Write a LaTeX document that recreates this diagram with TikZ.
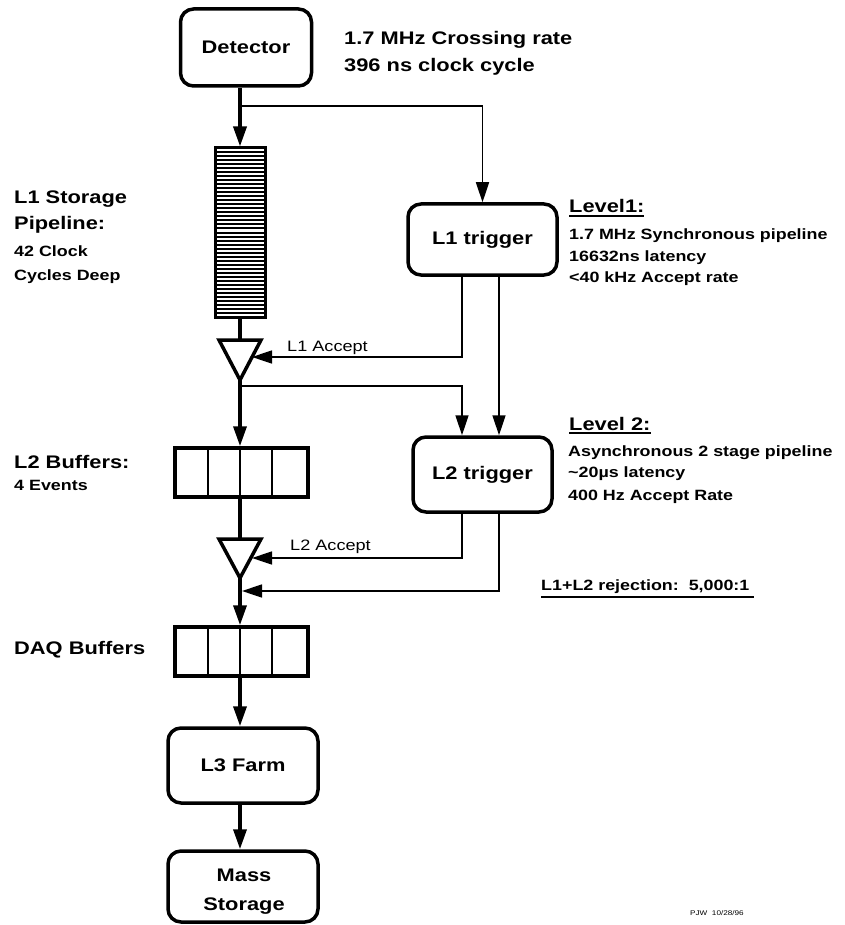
\documentclass[tikz,border=0pt]{standalone}
\usepackage{fontspec}
\setmainfont{Liberation Sans}
\usepackage{graphicx}
\usetikzlibrary{arrows.meta,calc}
\newcommand\wx[1]{\scalebox{1.2}[1]{#1}}
\newcommand\fbig{\fontsize{18.2}{28}\bfseries\selectfont}
\newcommand\fmed{\fontsize{14.9}{22}\bfseries\selectfont}
\newcommand\fmedr{\fontsize{15.1}{22}\selectfont}
\newcommand\ftiny{\fontsize{6.8}{8}\selectfont}
\newcommand\myul[2][4.3pt]{\setbox0\hbox{#2}\rlap{\rule[-#1]{\wd0}{2pt}}\box0}
\tikzset{
  bx/.style={draw, line width=3.5pt, rounded corners=13pt, inner sep=0pt, align=center},
  txt/.style={inner sep=0pt, anchor=base west},
  thk/.style={line width=3.5pt},
  thn/.style={line width=1.6pt},
  tip/.style={-{Triangle[length=20pt,width=13pt]}},
  buf/.style={draw, line width=3.5pt, inner sep=0pt, minimum width=133pt, minimum height=49pt},
}
\begin{document}
\begin{tikzpicture}[x=1pt,y=-1pt]
\useasboundingbox (0,0) rectangle (844,925);

% boxes
\node[bx, minimum width=131pt, minimum height=77pt] (det) at (246,47.5) {\fbig\wx{Detector}};
\node[bx, minimum width=149pt, minimum height=71pt] (l1t) at (482.5,239.5) {\fbig\wx{L1 trigger}};
\node[bx, minimum width=139pt, minimum height=75pt] (l2t) at (482.5,474.5) {\fbig\wx{L2 trigger}};
\node[bx, minimum width=150pt, minimum height=75pt] (l3) at (243,765.5) {\fbig\wx{L3 Farm}};
\node[bx, minimum width=150pt, minimum height=71pt] (ms) at (243,886.5) {};
\node[inner sep=0pt, anchor=base] (ms1) at (244,881.7) {\fbig\wx{Mass}};
\node[inner sep=0pt, anchor=base] (ms2) at (244,910) {\fbig\wx{Storage}};

% L1 storage pipeline
\node[draw, line width=3pt, minimum width=50pt, minimum height=169pt, inner sep=0pt] (pipe) at (240,232.5) {};
\foreach \i in {1,...,41}
  \draw[line width=2pt] (216.5,{148+\i*169/42}) -- (263.5,{148+\i*169/42});

% buffers
\node[buf] (buf2) at (241.5,472.5) {};
\foreach \x in {208,240,272} \draw[line width=2.2pt] (\x,449.5) -- (\x,495.5);
\node[buf] (daq) at (241.5,651.5) {};
\foreach \x in {208,240,272} \draw[line width=2.2pt] (\x,628.5) -- (\x,674.5);

% triangles (gates)
\coordinate (t1top) at (240,340);
\coordinate (t1apex) at (240,380);
\coordinate (t1hit) at (252,357);
\draw[thk, line join=miter] (219,340) -- (261,340) -- (t1apex) -- cycle;
\coordinate (t2top) at (240,539);
\coordinate (t2apex) at (240,578);
\coordinate (t2hit) at (252,558);
\draw[thk, line join=miter] (219,539) -- (261,539) -- (t2apex) -- cycle;

% connectors
\coordinate (br1) at (240,106);
\coordinate (br2) at (240,386);
\coordinate (rej) at (242,591);
\draw[thk,tip] (det.south -| pipe.north) -- (pipe.north);
\draw[thn,tip] (br1) -| (l1t.north);
\draw[thk] (pipe.south) -- (t1top);
\draw[thn,tip] ($(l1t.south)+(-20.5,0)$) |- (t1hit);
\draw[thn,tip] ($(l1t.south)+(16.5,0)$) -- ($(l2t.north)+(16.5,0)$);
\draw[thk,tip] (t1apex) -- (t1apex |- buf2.north);
\draw[thn,tip] (br2) -| ($(l2t.north)+(-20.5,0)$);
\draw[thk] (t1apex |- buf2.south) -- (t2top);
\draw[thn,tip] ($(l2t.south)+(-20.5,0)$) |- (t2hit);
\draw[thn,tip] ($(l2t.south)+(16.5,0)$) |- (rej);
\draw[thk,tip] (t2apex) -- (t2apex |- daq.north);
\draw[thk,tip] (t2apex |- daq.south) -- (t2apex |- l3.north);
\draw[thk,tip] (t2apex |- l3.south) -- (t2apex |- ms.north);

% texts
\node[txt] (ta) at (344,45) {\fbig\wx{1.7 MHz Crossing rate}};
\node[txt] (tb) at (344,72) {\fbig\wx{396 ns clock cycle}};

\node[txt] (lv1) at (569,212.7) {\fbig\myul[4.3pt]{\wx{Level1:}}};
\node[txt] (lv1a) at (569,239.3) {\fmed\wx{1.7 MHz Synchronous pipeline}};
\node[txt] (lv1b) at (569,261) {\fmed\wx{16632ns latency}};
\node[txt] (lv1c) at (569,282.7) {\fmed\wx{<40 kHz Accept rate}};

\node[txt] (lv2) at (569,430.7) {\fbig\myul[3.6pt]{\wx{Level 2:}}};
\node[txt] (lv2a) at (568,456) {\fmed\wx{Asynchronous 2 stage pipeline}};
\node[txt] (lv2b) at (568,477.7) {\fmed\wx{\textasciitilde 20µs latency}};
\node[txt] (lv2c) at (568,500) {\fmed\wx{400 Hz Accept Rate}};

\node[txt] (rjt) at (541,590.7) {\fmed\myul[7pt]{\wx{L1+L2 rejection:\ \ 5,000:1\ }}};

\node[txt] (ls1) at (14,203.3) {\fbig\wx{L1 Storage}};
\node[txt] (ls2) at (14,229.3) {\fbig\wx{Pipeline:}};
\node[txt] (ls3) at (14,256.7) {\fmed\wx{42 Clock}};
\node[txt] (ls4) at (14,280) {\fmed\wx{Cycles Deep}};

\node[txt] (lb1) at (14,468.3) {\fbig\wx{L2 Buffers:}};
\node[txt] (lb2) at (14,490.7) {\fmed\wx{4 Events}};
\node[txt] (db) at (14,654.3) {\fbig\wx{DAQ Buffers}};

\node[txt] (acc1) at (287,351) {\fmedr\wx{L1 Accept}};
\node[txt] (acc2) at (290,550.7) {\fmedr\wx{L2 Accept}};

\node[txt] (pjw) at (690,915) {\ftiny\wx{PJW\ \ 10/28/96}};
\end{tikzpicture}
\end{document}
